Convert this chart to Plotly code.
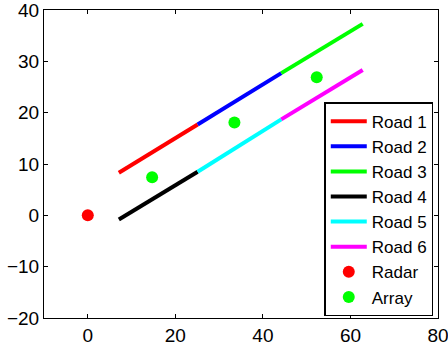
import plotly.graph_objects as go

road_names = ["Road 1", "Road 2", "Road 3", "Road 4", "Road 5", "Road 6"]
road_colors = ["#FF0000", "#0000FF", "#00FF00", "#000000", "#00FFFF", "#FF00FF"]
road_x = [[7.1, 25.1], [25.1, 44.2], [44.2, 62.8],
          [7.1, 25.1], [25.1, 44.2], [44.2, 62.8]]
road_y = [[8.3, 17.7], [17.7, 27.7], [27.7, 37.3],
          [-0.8, 8.5], [8.5, 18.7], [18.7, 28.3]]
radar_x = [0]
radar_y = [0]
array_x = [14.7, 33.5, 52.3]
array_y = [7.4, 18.1, 26.9]

fig = go.Figure()
for name, color, xs, ys in zip(road_names, road_colors, road_x, road_y):
    fig.add_trace(go.Scatter(x=xs, y=ys, mode="lines", name=name,
                             line=dict(color=color, width=4)))
fig.add_trace(go.Scatter(x=radar_x, y=radar_y, mode="markers", name="Radar",
                         marker=dict(color="#FF0000", size=12)))
fig.add_trace(go.Scatter(x=array_x, y=array_y, mode="markers", name="Array",
                         marker=dict(color="#00FF00", size=12)))

axis_common = dict(showgrid=False, zeroline=False, showline=True, linecolor="black",
                   linewidth=1, mirror="allticks", ticks="inside", ticklen=4,
                   tickcolor="black", tickfont=dict(size=19, color="black"),
                   ticklabeloverflow="allow", automargin=False)
fig.update_xaxes(range=[-10, 80], tickvals=[0, 20, 40, 60, 80], **axis_common)
fig.update_yaxes(range=[-20, 40], dtick=10, **axis_common)

fig.update_layout(
    width=448, height=351,
    margin=dict(l=44, r=10, t=10, b=33),
    paper_bgcolor="white", plot_bgcolor="white",
    font=dict(family="Liberation Sans, Arial, sans-serif", size=19, color="black"),
    legend=dict(x=0.988, xanchor="right", y=0.006, yanchor="bottom",
                bordercolor="black", borderwidth=1.5, bgcolor="white",
                font=dict(size=17), tracegroupgap=0, itemwidth=36),
    showlegend=True,
)
fig.write_html("out.html")
